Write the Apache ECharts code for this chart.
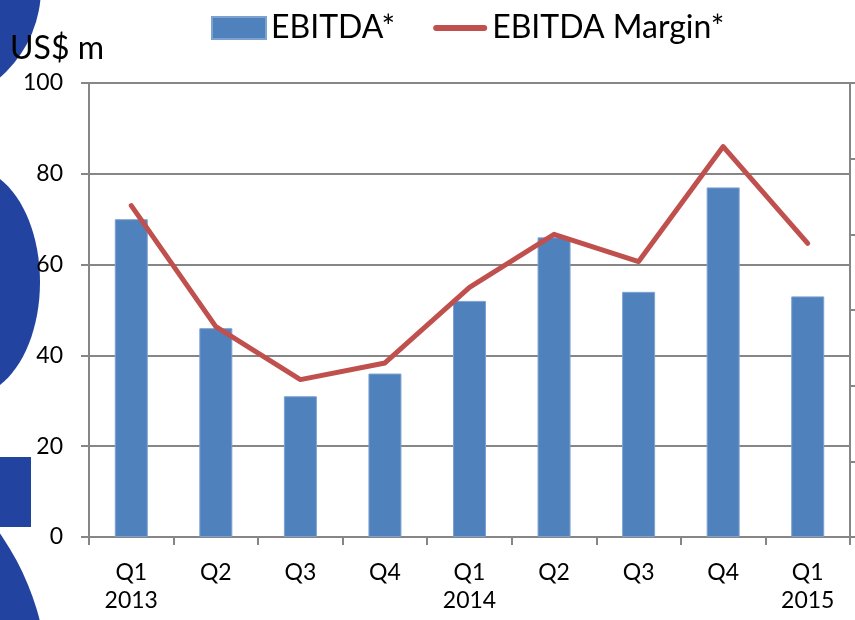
<!DOCTYPE html>
<html>
<head>
<meta charset="utf-8">
<script src="https://cdn.jsdelivr.net/npm/echarts@6/dist/echarts.min.js"></script>
<style>
  html, body { margin: 0; padding: 0; background: #fff; }
  #chart { width: 855px; height: 620px; }
</style>
</head>
<body>
<div id="chart"></div>
<script>
const quarters = ['Q1\n2013', 'Q2', 'Q3', 'Q4', 'Q1\n2014', 'Q2', 'Q3', 'Q4', 'Q1\n2015']
const ebitda = [70, 46, 31, 36, 52, 66, 54, 77, 53]
const ebitdaMargin = [21.9, 13.9, 10.4, 11.5, 16.5, 20.0, 18.2, 25.8, 19.4]

const font = 'Lato, "Open Sans", sans-serif'
const axisGrey = '#868686'
const logoBlue = '#2343a0'

const chart = echarts.init(document.getElementById('chart'), null, { renderer: 'canvas' })
chart.setOption({
  animation: false,
  backgroundColor: '#fff',
  title: {
    text: 'US$ m',
    left: 5,
    top: 28,
    textStyle: { fontFamily: font, fontSize: 32, fontWeight: 'normal', color: '#000' }
  },
  // logo fragments on the left edge
  graphic: [
    { type: 'circle', silent: true, z: -10, shape: { cx: -77, cy: -12, r: 118 }, style: { fill: logoBlue } },
    { type: 'ellipse', silent: true, z: -10, shape: { cx: -30, cy: 282, rx: 70, ry: 114 }, style: { fill: logoBlue } },
    { type: 'rect', silent: true, z: -10, shape: { x: 0, y: 457, width: 31, height: 70 }, style: { fill: logoBlue } },
    { type: 'circle', silent: true, z: -10, shape: { cx: -218, cy: 686, r: 266 }, style: { fill: logoBlue } }
  ],
  legend: {
    left: 206,
    top: 7,
    itemWidth: 54,
    itemHeight: 22,
    itemGap: 38,
    textStyle: { fontFamily: font, fontSize: 32, color: '#000' },
    data: [
      { name: 'EBITDA*', icon: 'rect' },
      { name: 'EBITDA Margin*', icon: 'path://M3,0 L51,0 A3,3 0 0 1 51,6 L3,6 A3,3 0 0 1 3,0 Z' }
    ]
  },
  grid: { left: 89, right: 5, top: 83, bottom: 83 },
  xAxis: {
    type: 'category',
    data: quarters,
    axisLine: { lineStyle: { color: axisGrey, width: 2 } },
    axisTick: { show: true, length: 8, lineStyle: { color: axisGrey, width: 2 } },
    axisLabel: {
      color: '#000',
      fontFamily: font,
      fontSize: 23,
      lineHeight: 28,
      margin: 22
    }
  },
  yAxis: [
    {
      type: 'value',
      min: 0,
      max: 100,
      interval: 20,
      axisLine: { show: true, lineStyle: { color: axisGrey, width: 2 } },
      axisTick: { show: true, length: 8, lineStyle: { color: axisGrey, width: 2 } },
      splitLine: { lineStyle: { color: axisGrey, width: 2 } },
      axisLabel: { color: '#000', fontFamily: font, fontSize: 23, margin: 26 }
    },
    {
      type: 'value',
      min: 0,
      max: 30,
      interval: 5,
      position: 'right',
      axisLine: { show: true, lineStyle: { color: axisGrey, width: 2 } },
      axisTick: { show: true, length: 6, lineStyle: { color: axisGrey, width: 2 } },
      splitLine: { show: false },
      axisLabel: { show: false }
    }
  ],
  series: [
    {
      name: 'EBITDA*',
      type: 'bar',
      data: ebitda,
      barWidth: 33,
      itemStyle: { color: '#4f81bd', borderColor: '#7da2d1', borderWidth: 1 }
    },
    {
      name: 'EBITDA Margin*',
      type: 'line',
      yAxisIndex: 1,
      data: ebitdaMargin,
      symbol: 'none',
      itemStyle: { color: '#c0504d' },
      lineStyle: { color: '#c0504d', width: 5, cap: 'round', join: 'round' }
    }
  ]
})
</script>
</body>
</html>
